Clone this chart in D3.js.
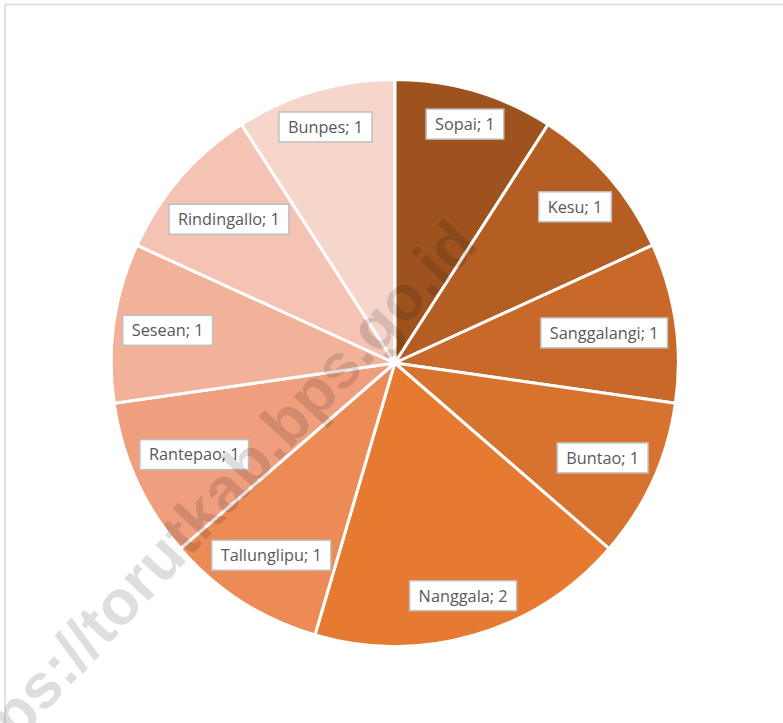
<!DOCTYPE html>
<html><head><meta charset="utf-8">
<script src="https://cdn.jsdelivr.net/npm/d3@7"></script>
<style>html,body{margin:0;padding:0;background:#fff;}</style>
</head><body>
<svg id="chart" width="783" height="723"></svg>
<script>
const categories = ["Sopai","Kesu","Sanggalangi","Buntao","Nanggala","Tallunglipu","Rantepao","Sesean","Rindingallo","Bunpes"];
const values = [1,1,1,1,2,1,1,1,1,1];
const colors = ["#9e531e","#b55e24","#c8692a","#d8722f","#e67a31","#ec8b55","#f09f7e","#f2b29a","#f4c3b3","#f6d5cb"];

const svg = d3.select("#chart");
const W = 783, H = 723;
svg.append("rect").attr("x",5).attr("y",4.5).attr("width",W).attr("height",H)
  .attr("fill","#fff").attr("stroke","#d9d9d9").attr("stroke-width",1.5);

const cx = 394.8, cy = 363, r = 283.5;
const data = categories.map((c,i)=>({name:c, value:values[i], color:colors[i]}));
const pie = d3.pie().sort(null).value(d=>d.value);
const arcs = pie(data);
const arc = d3.arc().innerRadius(0).outerRadius(r);

const g = svg.append("g").attr("transform",`translate(${cx},${cy})`);
g.selectAll("path.slice").data(arcs).enter().append("path")
  .attr("class","slice").attr("d",arc).attr("fill",d=>d.data.color)
  .attr("stroke","#fff").attr("stroke-width",3).attr("stroke-linejoin","round");

// labels: inside-end, box fitted within the circle
const fitR = r - 7, padX = 9, boxH = 30;
const lg = g.selectAll("g.lbl").data(arcs).enter().append("g").attr("class","lbl");
lg.each(function(d){
  const sel = d3.select(this);
  const t = sel.append("text").attr("text-anchor","middle").attr("dy","0.36em")
    .attr("font-family","'Open Sans', sans-serif").attr("font-size",16.3).attr("fill","#595959")
    .text(`${d.data.name}; ${d.data.value}`);
  const w = t.node().getComputedTextLength() + 2*padX;
  sel.insert("rect","text").attr("x",-w/2).attr("y",-boxH/2).attr("width",w).attr("height",boxH)
    .attr("fill","#fff").attr("stroke","#bfbfbf").attr("stroke-width",1.5);
  const a = (d.startAngle + d.endAngle)/2;
  const ux = Math.sin(a), uy = -Math.cos(a);
  let dist = fitR;
  for (let k = fitR; k > 0; k -= 0.5) {
    const px = ux*k, py = uy*k;
    const far = Math.max(
      Math.hypot(px - w/2, py - boxH/2), Math.hypot(px + w/2, py - boxH/2),
      Math.hypot(px - w/2, py + boxH/2), Math.hypot(px + w/2, py + boxH/2));
    if (far <= fitR) { dist = k; break; }
  }
  sel.attr("transform",`translate(${ux*dist},${uy*dist})`);
});

// watermark
svg.append("text").attr("transform","translate(480,246) rotate(-47)")
  .attr("text-anchor","end").attr("font-family","'Liberation Sans', Arial, sans-serif")
  .attr("font-weight","bold").attr("font-size",63).attr("fill","#000").attr("fill-opacity",0.13)
  .text("https://torutkab.bps.go.id");
</script>
</body></html>
